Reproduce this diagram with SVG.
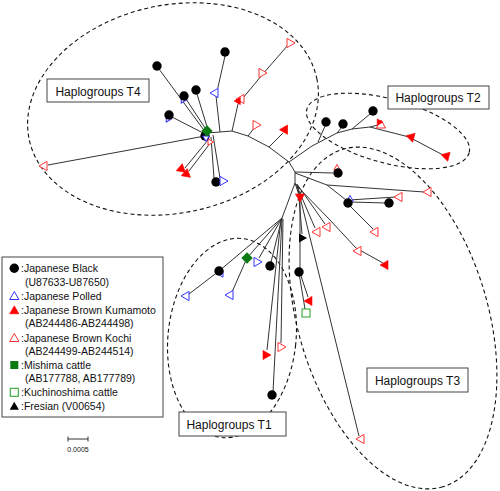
<svg xmlns="http://www.w3.org/2000/svg" xmlns:xlink="http://www.w3.org/1999/xlink" width="500" height="491" viewBox="0 0 500 491">
<style>
.e{fill:none;stroke:#111;stroke-width:1.1;stroke-dasharray:4 3}
.ln{fill:none;stroke:#333;stroke-width:1}
.bk{fill:#000}
.rf{fill:#f00;stroke:#f00;stroke-width:.6}
.ro{fill:#fff;stroke:#f33;stroke-width:1}
.bo{fill:#fff;stroke:#33f;stroke-width:1}
.kf{fill:#000}
.gf{fill:#0b7a12}
.go{fill:#fff;stroke:#3a3;stroke-width:1.1}
.box{fill:#fff;stroke:#444;stroke-width:1}
.lbl{font-family:"Liberation Sans",Arial,sans-serif;font-size:12px;fill:#111;text-anchor:middle}
.leg{font-family:"Liberation Sans",Arial,sans-serif;font-size:10.5px;fill:#111}
.sc{font-family:"Liberation Sans",Arial,sans-serif;font-size:7px;fill:#111;text-anchor:middle}
</style>
<defs>
<circle id="c" r="4.7"/>
<path id="t" d="M0,-5 L4.6,3 L-4.6,3Z"/>
<path id="ts" d="M0,-3.5 L3.2,2 L-3.2,2Z"/>
<rect id="s" x="-4" y="-4" width="8" height="8"/>
</defs>
<rect width="500" height="491" fill="#fff"/>

<g id="clusters">
<ellipse class="e" cx="173" cy="109" rx="147" ry="104" transform="rotate(-12 173 109)"/>
<ellipse class="e" cx="388" cy="131" rx="84" ry="32" transform="rotate(15 388 131)"/>
<ellipse class="e" cx="393" cy="318" rx="176" ry="95" transform="rotate(73.5 393 318)"/>
<ellipse class="e" cx="232" cy="338" rx="64" ry="100" transform="rotate(6 232 338)"/>
</g>

<g id="connectors" class="ln">
<path d="M206,133 L220,132 L232,131 L248,136 L269,147 L289,162 L295,172 L295,183"/>
<path d="M220,132 L216,96 L225,56"/>
<path d="M232,131 L238,104 L262,75 L288,45"/>
<path d="M248,136 L255,127"/>
<path d="M269,147 L283,133"/>
<path d="M206,133 L159,69"/>
<path d="M207,131 L186,99"/>
<path d="M208,130 L197,94"/>
<path d="M205,134 L172,117"/>
<path d="M205,136 L48,165"/>
<path d="M208,140 L185,168"/>
<path d="M211,142 L189,171"/>
<path d="M211,137 L214,178"/>
<path d="M213,135 L220,178"/>
<path d="M289,162 L312,146 L337,133 L352,129 L370,127 L409,137 L443,155"/>
<path d="M318,142 L325,126"/>
<path d="M337,133 L342,127"/>
<path d="M352,129 L370,114"/>
<path d="M370,127 L378,125"/>
<path d="M295,172 L333,173"/>
<path d="M295,173 L327,185 L424,192"/>
<path d="M327,185 L346,200"/>
<path d="M349,200 L396,197"/>
<path d="M350,202 L386,203"/>
<path d="M348,204 L373,229"/>
<path d="M295,183 L300,198 L300,268"/>
<path d="M298,186 L302,234"/>
<path d="M300,273 L308,297"/>
<path d="M299,273 L305,309"/>
<path d="M296,184 L315,228"/>
<path d="M297,184 L325,224"/>
<path d="M296,185 L330,220 L356,248 L383,263"/>
<path d="M297,185 L359,436"/>
<path d="M295,183 L282,218"/>
<path d="M282,218 L219,271 L189,294"/>
<path d="M282,218 L247,258 L232,292"/>
<path d="M282,218 L259,258"/>
<path d="M282,218 L271,262"/>
<path d="M281,219 L267,350"/>
<path d="M283,219 L281,343"/>
<path d="M282,219 L273,392"/>
</g>

<g id="nodes-T4">
<g id="t4-n1"><use href="#c" class="bk" x="157" y="66"/></g>
<g id="t4-n2"><use href="#ts" class="bo" transform="translate(183,100) rotate(-150)"/><use href="#c" class="bk" x="184" y="96"/></g>
<g id="t4-n3"><use href="#c" class="bk" x="196" y="90"/></g>
<g id="t4-n4"><use href="#ts" class="bo" transform="translate(168,119) rotate(-150)"/><use href="#c" class="bk" x="169" y="115"/></g>
<g id="t4-n5"><use href="#c" class="bk" x="225" y="52"/></g>
<g id="t4-n6"><use href="#t" class="bo" transform="translate(215,93) rotate(-90)"/></g>
<g id="t4-n7"><use href="#t" class="ro" transform="translate(44,166) rotate(-90)"/></g>
<g id="t4-n8"><use href="#t" class="rf" transform="translate(181,169) rotate(-110)"/></g>
<g id="t4-n9"><use href="#t" class="rf" transform="translate(186,174) rotate(-110)"/></g>
<g id="t4-n10"><use href="#c" class="bk" x="216" y="182"/></g>
<g id="t4-n11"><use href="#t" class="bo" transform="translate(223,181) rotate(90)"/></g>
<g id="t4-hub"><use href="#ts" class="ro" transform="translate(210,142) rotate(90)"/><use href="#c" class="bk" x="205" y="136"/><use href="#ts" class="bo" transform="translate(206,138) rotate(180)"/><use href="#s" class="gf" transform="translate(207,131) rotate(45)"/></g>
<g id="t4-n12"><use href="#t" class="ro" transform="translate(241,99) rotate(-90)"/><use href="#t" class="rf" transform="translate(238,101) rotate(-90) scale(.8)"/></g>
<g id="t4-n13"><use href="#t" class="ro" transform="translate(262,73) rotate(90)"/></g>
<g id="t4-n14"><use href="#t" class="ro" transform="translate(290,43) rotate(90)"/></g>
<g id="t4-n15"><use href="#t" class="ro" transform="translate(256,125) rotate(90)"/></g>
<g id="t4-n16"><use href="#t" class="rf" transform="translate(285,130) rotate(150)"/></g>
</g>

<g id="nodes-T2">
<g id="t2-n1"><use href="#c" class="bk" x="326" y="122"/></g>
<g id="t2-n2"><use href="#c" class="bk" x="343" y="124"/></g>
<g id="t2-n3"><use href="#c" class="bk" x="373" y="111"/></g>
<g id="t2-n4"><use href="#t" class="ro" transform="translate(381,125)"/><use href="#ts" class="rf" transform="translate(379,122) rotate(-30)"/></g>
<g id="t2-n5"><use href="#t" class="rf" transform="translate(411,137) rotate(-75)"/></g>
<g id="t2-n6"><use href="#t" class="rf" transform="translate(446,156) rotate(-75)"/></g>
</g>

<g id="nodes-T3">
<g id="t3-n1"><use href="#ts" class="ro" transform="translate(337,168)"/><use href="#c" class="bk" x="338" y="173"/></g>
<g id="t3-n2"><use href="#t" class="ro" transform="translate(428,192) rotate(-90)"/></g>
<g id="t3-n3"><use href="#t" class="ro" transform="translate(399,197) rotate(-90)"/></g>
<g id="t3-n4"><use href="#ts" class="bo" transform="translate(350,199)"/><use href="#c" class="bk" x="348" y="203"/></g>
<g id="t3-n5"><use href="#c" class="bk" x="389" y="203"/></g>
<g id="t3-n6"><use href="#t" class="ro" transform="translate(375,232) rotate(-90)"/></g>
<g id="t3-n7"><use href="#t" class="rf" transform="translate(300,197) rotate(180)"/></g>
<g id="t3-n8"><use href="#t" class="ro" transform="translate(317,232) rotate(-90)"/></g>
<g id="t3-n9"><use href="#t" class="ro" transform="translate(327,227) rotate(-90)"/></g>
<g id="t3-n10"><use href="#t" class="ro" transform="translate(358,251) rotate(-90)"/></g>
<g id="t3-n11"><use href="#t" class="rf" transform="translate(385,265) rotate(-90)"/></g>
<g id="t3-n12"><use href="#t" class="kf" transform="translate(302,238) rotate(90)"/></g>
<g id="t3-n13"><use href="#c" class="bk" x="299" y="272"/></g>
<g id="t3-n14"><use href="#t" class="rf" transform="translate(309,301) rotate(-90)"/></g>
<g id="t3-n15"><use href="#s" class="go" x="306" y="313"/></g>
<g id="t3-n16"><use href="#t" class="ro" transform="translate(361,439) rotate(-90)"/></g>
</g>

<g id="nodes-T1">
<g id="t1-n1"><use href="#ts" class="bo" transform="translate(221,274) rotate(-90)"/><use href="#c" class="bk" x="219" y="271"/></g>
<g id="t1-n2"><use href="#t" class="bo" transform="translate(186,296) rotate(-90)"/></g>
<g id="t1-n3"><use href="#s" class="gf" transform="translate(247,258) rotate(45)"/></g>
<g id="t1-n4"><use href="#t" class="bo" transform="translate(230,295) rotate(-90)"/></g>
<g id="t1-n5"><use href="#t" class="bo" transform="translate(257,262) rotate(90)"/></g>
<g id="t1-n6"><use href="#c" class="bk" x="270" y="266"/></g>
<g id="t1-n7"><use href="#t" class="rf" transform="translate(266,355) rotate(90)"/></g>
<g id="t1-n8"><use href="#t" class="ro" transform="translate(281,347) rotate(90)"/></g>
<g id="t1-n9"><use href="#c" class="bk" x="272" y="395"/></g>
</g>

<g id="label-T4"><rect class="box" x="47" y="79" width="102" height="23"/><text class="lbl" x="98" y="95.5">Haplogroups T4</text></g>
<g id="label-T2"><rect class="box" x="388" y="86" width="101" height="23"/><text class="lbl" x="438" y="101.5">Haplogroups T2</text></g>
<g id="label-T3"><rect class="box" x="367" y="368" width="101" height="24"/><text class="lbl" x="417.5" y="385">Haplogroups T3</text></g>
<g id="label-T1"><rect class="box" x="179" y="412" width="107" height="24"/><text class="lbl" x="229" y="428.5">Haplogroups T1</text></g>

<g id="legend">
<rect class="box" x="2" y="257" width="161" height="160"/>
<use href="#c" class="bk" x="14.3" y="268.3"/>
<text class="leg" x="21" y="272.3">:Japanese Black</text>
<text class="leg" x="25" y="285.7">(U87633-U87650)</text>
<use href="#t" class="bo" transform="translate(14.3,296.5)"/>
<text class="leg" x="21" y="299.7">:Japanese Polled</text>
<use href="#t" class="rf" transform="translate(14.3,310.8)"/>
<text class="leg" x="21" y="314">:Japanese Brown Kumamoto</text>
<text class="leg" x="25" y="327.3">(AB244486-AB244498)</text>
<use href="#t" class="ro" transform="translate(14.3,338.5)"/>
<text class="leg" x="21" y="341.7">:Japanese Brown Kochi</text>
<text class="leg" x="25" y="355">(AB244499-AB244514)</text>
<use href="#s" class="gf" x="14.3" y="365"/>
<text class="leg" x="21" y="369">:Mishima cattle</text>
<text class="leg" x="25" y="382.3">(AB177788, AB177789)</text>
<use href="#s" class="go" x="14.3" y="392.3"/>
<text class="leg" x="21" y="396.3">:Kuchinoshima cattle</text>
<use href="#t" class="kf" transform="translate(14.3,406.8)"/>
<text class="leg" x="21" y="410">:Fresian (V00654)</text>
</g>

<g id="scale">
<path class="ln" d="M68,439 L88,439 M68,436.5 L68,441.5 M88,436.5 L88,441.5"/>
<text class="sc" x="78" y="452">0.0005</text>
</g>
</svg>
